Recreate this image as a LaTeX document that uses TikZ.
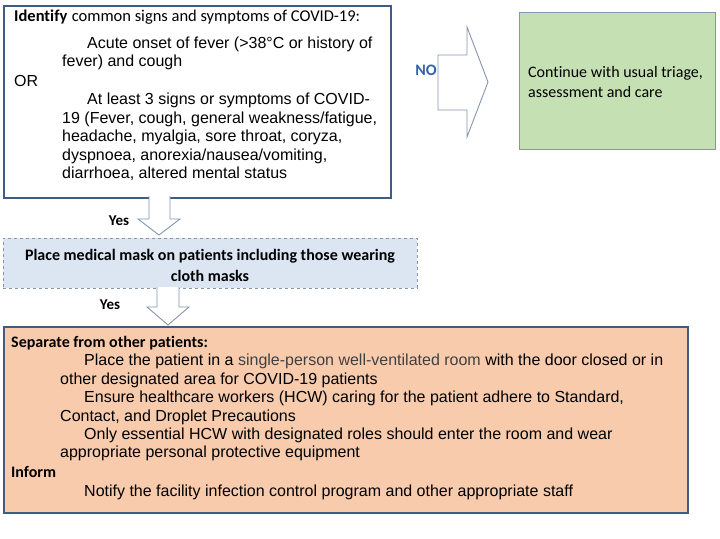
\documentclass[tikz,border=0pt]{standalone}
\usepackage{fontspec}
\setmainfont{Liberation Sans}
\newfontfamily\calfont[Ligatures=NoCommon]{Carlito}
\definecolor{boxblue}{HTML}{3E5C84}
\definecolor{arrowgray}{HTML}{8496B0}
\definecolor{greenfill}{HTML}{C5E0B3}
\definecolor{bluefill}{HTML}{DCE6F2}
\definecolor{peach}{HTML}{F8CBAD}
\definecolor{noblue}{HTML}{3560B0}
\definecolor{midgray}{HTML}{404040}
\begin{document}
\begin{tikzpicture}[x=1pt,y=-1pt,
  mainbox/.style={draw=boxblue,line width=2.2pt},
  thinbox/.style={draw=arrowgray,line width=0.8pt},
  fatarrow/.style={draw=arrowgray,line width=0.9pt,fill=white,line join=miter},
  bodytext/.style={anchor=north west,align=left,inner sep=0pt,font=\fontsize{16}{18.4}\selectfont},
  lbl/.style={inner sep=0pt,font=\calfont\bfseries\fontsize{15}{17}\selectfont}]
\useasboundingbox (0,0) rectangle (720,538);
% boxes
\node[mainbox,fill=white,minimum width=387pt,minimum height=192pt,anchor=north west,inner sep=0pt] (identify) at (3,5) {};
\node[thinbox,fill=greenfill,minimum width=196pt,minimum height=137pt,anchor=north west,inner sep=0pt] (continue) at (519,12) {};
\node[thinbox,dashed,fill=bluefill,minimum width=414pt,minimum height=50pt,anchor=north west,inner sep=0pt] (mask) at (3,238) {};
\node[mainbox,fill=peach,minimum width=684pt,minimum height=186pt,anchor=north west,inner sep=0pt] (separate) at (3,326) {};
% texts
\node[bodytext] (idtext) at (14,10) {{\calfont\fontsize{16.5}{18.4}\selectfont\bfseries Identify} {\calfont\fontsize{16.5}{18.4}\selectfont common signs and symptoms of COVID-19:}\\[8pt]
\hspace*{73pt}Acute onset of fever (>38°C or history of\\
\hspace*{48pt}fever) and cough\\[1.5pt]
OR\\
\hspace*{73pt}At least 3 signs or symptoms of COVID-\\
\hspace*{48pt}19 (Fever, cough, general weakness/fatigue,\\
\hspace*{48pt}headache, myalgia, sore throat, coryza,\\
\hspace*{48pt}dyspnoea, anorexia/nausea/vomiting,\\
\hspace*{48pt}diarrhoea, altered mental status};
\node[bodytext,font=\calfont\fontsize{16}{20.5}\selectfont] (conttext) at (528,66) {Continue with usual triage,\\assessment and care};
\node[align=center,inner sep=0pt,font=\calfont\bfseries\fontsize{16}{20.5}\selectfont] (masktext) at (210,265.5) {Place medical mask on patients including those wearing\\cloth masks};
\node[bodytext] (septext) at (11,336) {{\calfont\bfseries Separate from other patients:}\\
\hspace*{73pt}Place the patient in a {\color{midgray}single-person well-ventilated room} with the door closed or in\\
\hspace*{49pt}other designated area for COVID-19 patients\\
\hspace*{73pt}Ensure healthcare workers (HCW) caring for the patient adhere to Standard,\\
\hspace*{49pt}Contact, and Droplet Precautions\\
\hspace*{73pt}Only essential HCW with designated roles should enter the room and wear\\
\hspace*{49pt}appropriate personal protective equipment\\[1.5pt]
{\calfont\bfseries Inform}\\
\hspace*{73pt}Notify the facility infection control program and other appropriate staff};
% arrows
\draw[fatarrow] (149,196) -- (149,219) -- (138,219) -- (159,235) -- (180,219) -- (170,219) -- (170,196);
\draw[fatarrow] (157,287) -- (157,307) -- (147,307) -- (168,325) -- (189,307) -- (179,307) -- (179,287);
\draw[fatarrow] (438,55) -- (467,55) -- (467,27) -- (488,82) -- (467,137) -- (467,110) -- (438,110) -- cycle;
% labels
\node[lbl,text=black] (yes1) at (119,221) {Yes};
\node[lbl,text=black] (yes2) at (110,305) {Yes};
\node[lbl,text=noblue,anchor=east,font=\calfont\bfseries\fontsize{16}{18}\selectfont] (no) at (437,70) {NO};
\end{tikzpicture}
\end{document}
